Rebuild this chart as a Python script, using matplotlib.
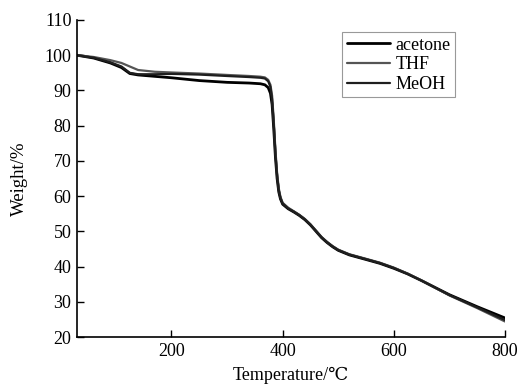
import matplotlib
matplotlib.use("Agg")
import matplotlib.pyplot as plt

plt.rcParams['font.family'] = ['Liberation Serif', 'DejaVu Serif', 'DejaVu Sans']

temperature = [30, 60, 90, 110, 125, 140, 170, 200, 250, 300, 340, 360, 368, 374, 378,
               381, 384, 387, 390, 393, 396, 400, 410, 420, 430, 440, 450, 460, 470, 480,
               490, 500, 520, 550, 575, 600, 625, 650, 700, 750, 800]

acetone = [100, 99.2, 97.8, 96.5, 94.8, 94.4, 94.0, 93.6, 92.8, 92.3, 92.1, 91.9, 91.6, 90.8, 89.2,
           86, 79, 71, 65, 61.2, 59.2, 57.7, 56.4, 55.5, 54.5, 53.3, 51.8, 50.0, 48.2, 46.8,
           45.6, 44.6, 43.3, 42.0, 40.9, 39.5, 37.9, 36.0, 32.0, 28.6, 25.4]
thf = [100, 99.5, 98.6, 97.8, 96.8, 95.8, 95.3, 95.1, 94.8, 94.4, 94.1, 93.9, 93.7, 93.0, 91.6,
       88.5, 81.5, 73, 66.5, 62.2, 59.8, 58.1, 56.7, 55.7, 54.7, 53.5, 52.0, 50.2, 48.4, 47.0,
       45.8, 44.8, 43.5, 42.2, 41.1, 39.7, 38.0, 36.0, 31.8, 28.2, 24.4]
meoh = [100, 99.3, 98.0, 96.8, 95.0, 94.6, 94.6, 94.7, 94.5, 94.1, 93.8, 93.6, 93.4, 92.6, 91.0,
        87.5, 80.5, 72, 65.8, 61.7, 59.5, 57.9, 56.5, 55.6, 54.6, 53.4, 51.9, 50.1, 48.3, 46.9,
        45.7, 44.7, 43.4, 42.1, 41.0, 39.6, 37.9, 36.0, 31.9, 28.4, 24.8]

series = [("acetone", acetone, "#000000", 2.0),
          ("THF", thf, "#555555", 1.6),
          ("MeOH", meoh, "#1e1e1e", 1.6)]

x_ticks = [200, 400, 600, 800]
y_ticks = [20, 30, 40, 50, 60, 70, 80, 90, 100, 110]

fig = plt.figure(figsize=(5.21, 3.88), dpi=100)
ax = fig.add_axes([77/521, 1-337/388, (505-77)/521, (337-20)/388])

for name, vals, col, lw in series:
    ax.plot(temperature, vals, color=col, lw=lw, label=name,
            solid_capstyle='round', solid_joinstyle='round')

ax.set_xlim(30, 800)
ax.set_ylim(20, 110)
ax.set_xticks(x_ticks)
ax.set_yticks(y_ticks)
ax.spines['top'].set_visible(False)
ax.spines['right'].set_visible(False)
for s in ('left', 'bottom'):
    ax.spines[s].set_linewidth(1.2)
ax.tick_params(direction='in', length=5, width=1.0, labelsize=13, pad=4)
ax.set_xlabel("Temperature/℃", fontsize=13, labelpad=5)
ax.set_ylabel("Weight/%", fontsize=13.5, labelpad=12)

leg = ax.legend(loc='upper right', bbox_to_anchor=((455-77)/(505-77), (337-32)/(337-20)),
                fontsize=13, handlelength=2.4, handletextpad=0.3, borderpad=0.25,
                labelspacing=0.15, fancybox=False, framealpha=1, borderaxespad=0)
leg.get_frame().set_edgecolor('#999999')
leg.get_frame().set_linewidth(0.8)

fig.savefig("out.png", dpi=100)
